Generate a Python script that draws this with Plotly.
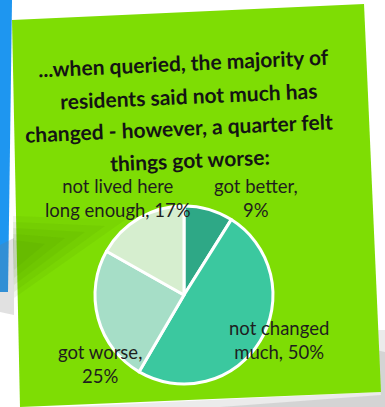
import plotly.graph_objects as go

# pie data, clockwise from 12 o'clock
categories = ["got better", "not changed much", "got worse", "not lived here long enough"]
values = [9, 50, 25, 17]
colors = ["#2ea886", "#3bc89f", "#a6dec7", "#d6eecf"]

title_lines = [
    "...when queried, the majority of",
    "residents said not much has",
    "changed - however, a quarter felt",
    "things got worse:",
]

W, H = 385, 407


def px(x, y):
    # pixel -> paper coords
    return x / W, 1 - y / H


def path(points):
    d = ""
    for i, (x, y) in enumerate(points):
        a, b = px(x, y)
        d += ("M" if i == 0 else "L") + f"{a:.4f},{b:.4f} "
    return d + "Z"


fig = go.Figure()

cx, cy, r = 184, 295, 89
x0, y0 = px(cx - r, cy + r)
x1, y1 = px(cx + r, cy - r)
fig.add_trace(go.Pie(
    labels=categories,
    values=values,
    sort=False,
    direction="clockwise",
    rotation=0,
    marker=dict(colors=colors, line=dict(color="white", width=3)),
    textinfo="none",
    hoverinfo="label+percent",
    showlegend=False,
    domain=dict(x=[x0, x1], y=[y0, y1]),
))

shapes = [
    # blue strip on the left
    dict(type="path", path=path([(0, 0), (12, 0), (8, 292), (0, 292)]),
         fillcolor="#1e96f0", line=dict(width=0), layer="below"),
    # gray shadow on the page
    dict(type="path", path=path([(0, 245), (14, 238), (14, 315), (0, 312)]),
         fillcolor="rgba(120,120,120,0.22)", line=dict(width=0), layer="below"),
    dict(type="path", path=path([(372, 330), (385, 330), (385, 407), (60, 407), (381, 392)]),
         fillcolor="rgba(120,120,120,0.15)", line=dict(width=0), layer="below"),
    dict(type="path", path=path([(376, 350), (385, 352), (385, 407), (220, 407), (381, 395)]),
         fillcolor="rgba(110,110,110,0.18)", line=dict(width=0), layer="below"),
    # the green note
    dict(type="path", path=path([(12, 20), (364, 4), (381, 392), (20, 407)]),
         fillcolor="#7edd04", line=dict(width=0), layer="below"),
]
# soft darker crease on the left of the note
crease = [
    [(13, 216), (125, 220), (14, 298)],
    [(13, 222), (105, 226), (14, 292)],
    [(13, 228), (85, 232), (14, 285)],
    [(13, 234), (65, 238), (14, 278)],
    [(13, 240), (45, 244), (14, 270)],
]
for pts in crease:
    shapes.append(dict(type="path", path=path(pts),
                       fillcolor="rgba(60,120,0,0.07)", line=dict(width=0), layer="below"))

annotations = []
# title lines, slightly tilted like the note
title_pos = [(183, 62), (188, 95), (179, 128), (190, 160)]
for t, (lx, ly) in zip(title_lines, title_pos):
    ax, ay = px(lx, ly)
    annotations.append(dict(
        x=ax, y=ay, xref="paper", yref="paper", showarrow=False,
        xanchor="center", yanchor="middle",
        text=f"<b>{t}</b>", textangle=-2.5,
        font=dict(family="Lato", size=21, color="#141414"),
    ))

# data labels
label_text = [
    f"{categories[0]},<br>{values[0]}%",
    "not changed<br>much, " + f"{values[1]}%",
    f"{categories[2]},<br>{values[2]}%",
    "not lived here<br>long enough, " + f"{values[3]}%",
]
label_pos = [(256, 198), (279, 340), (100, 364), (118, 198)]
for t, (lx, ly) in zip(label_text, label_pos):
    ax, ay = px(lx, ly)
    annotations.append(dict(
        x=ax, y=ay, xref="paper", yref="paper", showarrow=False,
        xanchor="center", yanchor="middle",
        text=t, align="center",
        font=dict(family="Lato", size=18.5, color="#1e1e1e"),
    ))

fig.update_layout(
    width=W, height=H,
    margin=dict(l=0, r=0, t=0, b=0),
    paper_bgcolor="white",
    plot_bgcolor="white",
    shapes=shapes,
    annotations=annotations,
)

fig.write_html("out.html", config={"displayModeBar": False},
               post_script="document.body.style.margin='0';")
